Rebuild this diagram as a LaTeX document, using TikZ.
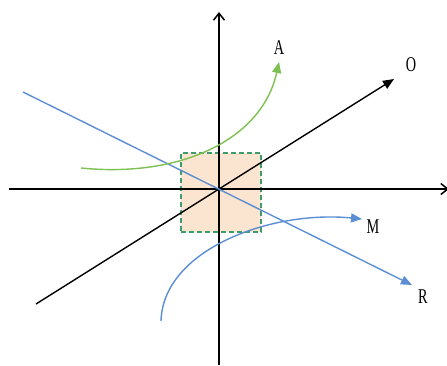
\documentclass[tikz,border=0pt]{standalone}
\usepackage{fontspec}
\setmainfont{Liberation Serif}
\usetikzlibrary{arrows.meta}
\definecolor{lblue}{HTML}{5B8ED2}
\definecolor{lgreen}{HTML}{7CC152}
\definecolor{peach}{HTML}{FBE4D0}
\definecolor{dgreen}{HTML}{3E9C6C}
\tikzset{
  axis/.style={black, line width=1.5pt, -{Straight Barb[length=7pt,width=11pt]}},
  vec/.style={line width=1.4pt, -{Triangle[length=11pt,width=9pt]}},
  lab/.style={font=\fontsize{21}{21}\selectfont, inner sep=0pt, xscale=0.68}
}
\begin{document}
\begin{tikzpicture}[x=1pt,y=-1pt]
\useasboundingbox (0,0) rectangle (447,365);
\node[draw=dgreen, dashed, dash pattern=on 5pt off 3pt, line width=1.4pt, fill=peach, minimum width=80pt, minimum height=79pt, inner sep=0pt] (box) at (221,192.5) {};
\coordinate (c) at (219,189);
\coordinate (yb) at (219,365);
\coordinate (yt) at (219,12);
\coordinate (xl) at (9,189);
\coordinate (xr) at (449,189);
\draw[axis] (yb) -- (yt);
\draw[axis] (xl) -- (xr);
\coordinate (os) at (36,304);
\coordinate (oe) at (394,79);
\draw[vec, black] (os) -- (oe);
\coordinate (rs) at (23,92);
\coordinate (re) at (412,285);
\draw[vec, lblue] (rs) -- (re);
\coordinate (as) at (81,168);
\coordinate (ae) at (279,62);
\draw[vec, lgreen] (as) .. controls (180,178) and (262,140) .. (ae);
\coordinate (ms) at (161,321);
\coordinate (me) at (362,219);
\draw[vec, lblue] (ms) .. controls (163,250) and (270,210) .. (me);
\node[lab] (A) at (279,48) {A};
\node[lab] (O) at (411,65) {O};
\node[lab] (M) at (373,227) {M};
\node[lab] (R) at (423,297) {R};
\end{tikzpicture}
\end{document}
